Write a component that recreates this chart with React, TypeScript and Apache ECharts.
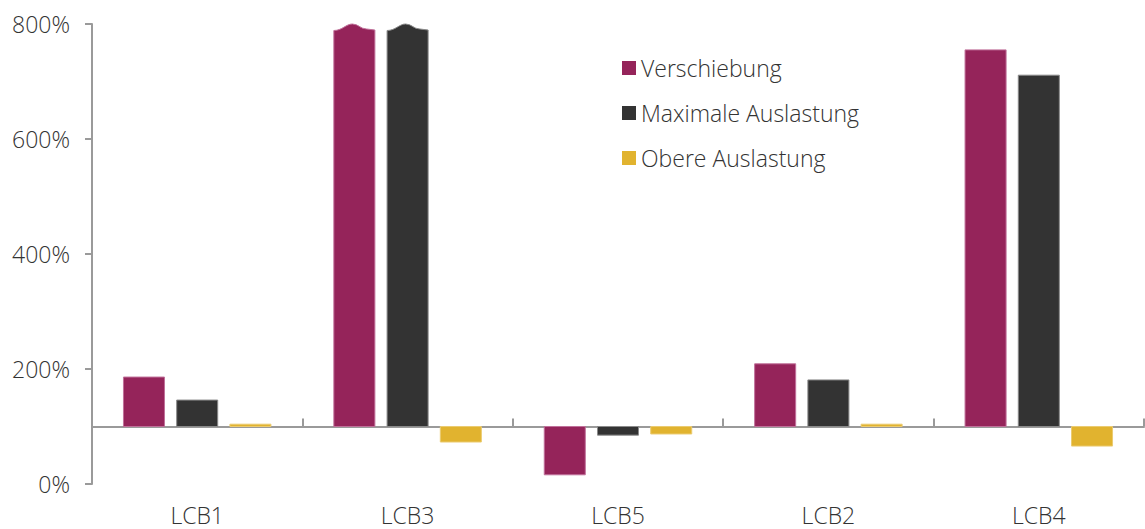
import React, { useEffect, useRef } from "react";
import * as echarts from "echarts";

const categories = ["LCB1", "LCB3", "LCB5", "LCB2", "LCB4"];
const seriesNames = ["Verschiebung", "Maximale Auslastung", "Obere Auslastung"];
const verschiebung = [186, 950, 16, 209, 755];
const maximaleAuslastung = [146, 940, 85, 181, 711];
const obereAuslastung = [104, 73, 87, 104, 66];
const yTicks = [0, 200, 400, 600, 800];

const BASE = 100;
const AXIS_MIN = 0;
const AXIS_MAX = 800;
const colors = ["#95245A", "#333333", "#E1B32F"];
const strokes = ["#C0709A", "#8A8A8A", "#EBCB70"];
const FONT = "Open Sans";
const FS = 23;

function makeRender(idx: number) {
  return (params: any, api: any) => {
    const cat = api.value(0);
    const val = api.value(1);
    const capped = Math.min(val, AXIS_MAX);
    const base = api.coord([cat, BASE]);
    const top = api.coord([cat, capped]);
    const catW = api.size([1, 0])[0];
    const bw = catW * 0.195;
    const gap = catW * 0.058;
    const cx = base[0] + (idx - 1) * (bw + gap);
    const x0 = cx - bw / 2;
    const x1 = cx + bw / 2;
    const style = { fill: colors[idx], stroke: strokes[idx], lineWidth: 1 };
    if (val > AXIS_MAX) {
      const yp = top[1];
      const ys = yp + 6;
      const yb = base[1];
      const w = bw;
      const d =
        `M ${x0} ${yb} L ${x0} ${ys + 0.5} ` +
        `C ${x0 + 0.2 * w} ${ys + 0.5}, ${x0 + 0.3 * w} ${yp}, ${x0 + 0.45 * w} ${yp} ` +
        `C ${x0 + 0.6 * w} ${yp}, ${x0 + 0.65 * w} ${ys - 1}, ${x0 + 0.8 * w} ${ys - 1} ` +
        `L ${x1} ${ys} L ${x1} ${yb} Z`;
      return { type: "path", shape: { pathData: d }, style };
    }
    const yTop = Math.min(base[1], top[1]);
    const h = Math.abs(base[1] - top[1]);
    return { type: "rect", shape: { x: x0, y: yTop, width: bw, height: h }, style };
  };
}

export default function App() {
  const ref = useRef<HTMLDivElement>(null);
  useEffect(() => {
    document.body.style.margin = "0";
    if (!ref.current) return;
    const chart = echarts.init(ref.current, undefined, { renderer: "svg" });
    const values = [verschiebung, maximaleAuslastung, obereAuslastung];
    const axisColor = "#9A9A9A";
    const textColor = "#333333";
    chart.setOption({
      animation: false,
      grid: { left: 92, right: 1, top: 24, bottom: 45, containLabel: false },
      legend: {
        orient: "vertical",
        left: 617,
        top: 51,
        icon: "rect",
        itemWidth: 14,
        itemHeight: 14,
        itemGap: 21,
        data: seriesNames,
        textStyle: { fontFamily: FONT, fontSize: FS, color: textColor, lineHeight: 24, fontWeight: 300 },
      },
      xAxis: [
        {
          type: "category",
          data: categories,
          axisLine: { show: false },
          axisTick: { show: false },
          axisLabel: { margin: 19, fontFamily: FONT, fontSize: FS, color: textColor, fontWeight: 300 },
        },
        {
          type: "category",
          data: categories,
          axisLine: { show: true, onZero: true, onZeroAxisIndex: 1, lineStyle: { color: axisColor, width: 2 } },
          axisTick: { show: true, length: 8, lineStyle: { color: axisColor, width: 2 } },
          axisLabel: { show: false },
        },
      ],
      yAxis: [
        {
          type: "value",
          min: AXIS_MIN,
          max: AXIS_MAX,
          interval: 200,
          axisLine: { show: true, lineStyle: { color: axisColor, width: 2 } },
          axisTick: { show: true, length: 7, lineStyle: { color: axisColor, width: 2 } },
          splitLine: { show: false },
          axisLabel: {
            margin: 22,
            fontFamily: FONT,
            fontSize: FS,
            color: textColor,
            fontWeight: 300,
            formatter: (v: number) => (yTicks.includes(v) ? `${v}%` : ""),
          },
        },
        {
          type: "value",
          min: AXIS_MIN - BASE,
          max: AXIS_MAX - BASE,
          show: false,
        },
      ],
      series: seriesNames.map((name, idx) => ({
        name,
        type: "custom",
        xAxisIndex: 0,
        yAxisIndex: 0,
        clip: false,
        itemStyle: { color: colors[idx] },
        renderItem: makeRender(idx),
        data: categories.map((_, i) => [i, values[idx][i]]),
      })),
    });
    return () => chart.dispose();
  }, []);
  return <div ref={ref} style={{ width: 1145, height: 529 }} />;
}
